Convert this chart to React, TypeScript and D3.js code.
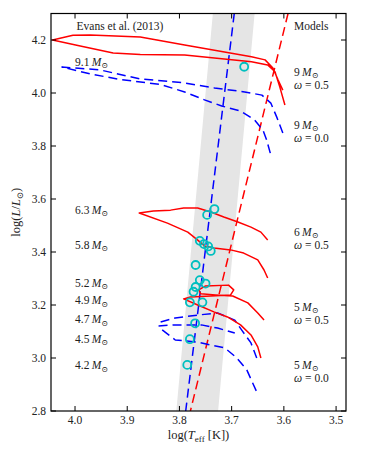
import * as d3 from 'd3';

const W = 368, H = 452;
const ML = 51, MR = 22, MT = 13.5, MB = 41;
const FONT = "'Liberation Serif', 'DejaVu Serif', serif";

const xTicks = [4.0, 3.9, 3.8, 3.7, 3.6, 3.5];
const yTicks = [2.8, 3.0, 3.2, 3.4, 3.6, 3.8, 4.0, 4.2];

// instability strip band and edges (logTeff, logL)
const stripBand = [[3.736, 4.3], [3.656, 4.3], [3.726, 2.8], [3.806, 2.8]];
const blueEdge = [[3.695, 4.3], [3.788, 2.8]];
const redEdge = [[3.592, 4.3], [3.779, 2.8]];

// rotating models (omega = 0.5), red solid
const track9Rot = [
  [3.602, 4.011], [3.611, 4.049], [3.621, 4.094], [3.636, 4.125], [3.662, 4.137],
  [3.790, 4.181], [3.875, 4.211], [3.971, 4.219], [4.004, 4.218], [4.043, 4.2],
  [3.990, 4.177], [3.927, 4.151], [3.875, 4.145], [3.790, 4.143], [3.662, 4.118],
  [3.631, 4.106], [3.617, 4.080], [3.608, 4.024], [3.598, 3.955],
];
const track6Rot = [
  [3.631, 3.445], [3.644, 3.475], [3.663, 3.494], [3.688, 3.513], [3.715, 3.532],
  [3.740, 3.551], [3.765, 3.566], [3.792, 3.566], [3.817, 3.558], [3.850, 3.555],
  [3.877, 3.547], [3.823, 3.509], [3.784, 3.475], [3.765, 3.445], [3.752, 3.423],
  [3.734, 3.415], [3.702, 3.408], [3.677, 3.396], [3.650, 3.370], [3.638, 3.332],
  [3.631, 3.302],
];
const track5Rot = [
  [3.638, 3.143], [3.650, 3.170], [3.669, 3.208], [3.698, 3.234], [3.731, 3.238],
  [3.759, 3.242], [3.763, 3.257], [3.750, 3.272], [3.706, 3.275], [3.696, 3.257],
  [3.702, 3.238], [3.740, 3.234], [3.779, 3.230], [3.792, 3.223], [3.765, 3.200],
  [3.734, 3.174], [3.708, 3.155], [3.683, 3.125], [3.663, 3.087], [3.650, 3.042],
  [3.644, 3.000],
];

// non-rotating models (omega = 0.0), blue dashed
const track9NoRot = [
  [3.602, 3.849], [3.613, 3.906], [3.625, 3.962], [3.642, 3.992], [3.675, 4.004],
  [3.733, 4.019], [3.790, 4.038], [3.875, 4.053], [3.952, 4.087], [4.025, 4.098],
  [3.971, 4.072], [3.913, 4.051], [3.836, 4.032], [3.790, 4.004], [3.752, 3.974],
  [3.719, 3.951], [3.683, 3.932], [3.656, 3.898], [3.640, 3.860], [3.633, 3.823],
  [3.625, 3.766],
];
const track5NoRotA = [
  [3.836, 3.136], [3.808, 3.151], [3.765, 3.162], [3.727, 3.170], [3.694, 3.143],
  [3.681, 3.106], [3.663, 3.057], [3.652, 3.000],
];
const track5NoRotB = [
  [3.840, 3.121], [3.808, 3.125], [3.758, 3.125], [3.727, 3.113], [3.694, 3.094],
];
const track5NoRotC = [
  [3.833, 3.106], [3.808, 3.068], [3.765, 3.060], [3.740, 3.049], [3.713, 3.038],
  [3.690, 3.000], [3.671, 2.955], [3.652, 2.872],
];

// Cepheids from Evans et al. (2013)
const cepheids = [
  [3.676, 4.099], [3.733, 3.562], [3.747, 3.540], [3.761, 3.442], [3.753, 3.430],
  [3.745, 3.421], [3.740, 3.404], [3.769, 3.351], [3.761, 3.294], [3.750, 3.281],
  [3.769, 3.268], [3.773, 3.250], [3.780, 3.210], [3.756, 3.210], [3.770, 3.131],
  [3.780, 3.071], [3.785, 2.974],
];

const massLabels = ['9.1', '6.3', '5.8', '5.2', '4.9', '4.7', '4.5', '4.2'];
const massLabelLum = [4.116, 3.559, 3.427, 3.282, 3.216, 3.146, 3.072, 2.972];

const modelMasses = ['9', '9', '6', '5', '5'];
const modelOmegas = ['0.5', '0.0', '0.5', '0.5', '0.0'];
const modelLabelLum = [4.057, 3.857, 3.453, 3.170, 2.951];

const x = d3.scaleLinear().domain([4.046, 3.481]).range([ML, W - MR]);
const y = d3.scaleLinear().domain([2.8, 4.3]).range([H - MB, MT]);
const line = d3.line<number[]>().x((d) => x(d[0])).y((d) => y(d[1]));

function Msun({ m }: { m: string }) {
  return (
    <>
      {m}{'\u2009'}<tspan fontStyle="italic">M</tspan>
      <tspan fontSize={8} dy={2.5}>{'\u2299'}</tspan>
    </>
  );
}

export default function App() {
  const iw = W - ML - MR;
  const ih = H - MT - MB;
  const redTracks = [track9Rot, track6Rot, track5Rot];
  const blueTracks = [track9NoRot, track5NoRotA, track5NoRotB, track5NoRotC];

  return (
    <svg width={W} height={H} style={{ position: 'absolute', left: 0, top: 0, background: '#fff' }}
      fontFamily={FONT}>
      <defs>
        <clipPath id="plot">
          <rect x={ML} y={MT} width={iw} height={ih} />
        </clipPath>
      </defs>

      <g clipPath="url(#plot)">
        <path d={line(stripBand) + 'Z'} fill="#e5e5e5" />
        <path d={line(blueEdge) ?? ''} fill="none" stroke="#0000ff" strokeWidth={1.5} strokeDasharray="9,5" />
        <path d={line(redEdge) ?? ''} fill="none" stroke="#ff0000" strokeWidth={1.5} strokeDasharray="9,5" />
        {blueTracks.map((t, i) => (
          <path key={'b' + i} d={line(t) ?? ''} fill="none" stroke="#0000ff" strokeWidth={1.5}
            strokeDasharray="9,5" strokeLinejoin="round" />
        ))}
        {redTracks.map((t, i) => (
          <path key={'r' + i} d={line(t) ?? ''} fill="none" stroke="#ff0000" strokeWidth={1.5}
            strokeLinejoin="round" />
        ))}
        {cepheids.map((d, i) => (
          <circle key={i} cx={x(d[0])} cy={y(d[1])} r={4} fill="none" stroke="#00bfbf" strokeWidth={1.8} />
        ))}
      </g>

      {/* frame and ticks */}
      <rect x={ML} y={MT} width={iw} height={ih} fill="none" stroke="#000" strokeWidth={1.2} />
      {xTicks.map((t) => (
        <g key={'x' + t}>
          <line x1={x(t)} x2={x(t)} y1={H - MB} y2={H - MB - 5} stroke="#000" />
          <line x1={x(t)} x2={x(t)} y1={MT} y2={MT + 5} stroke="#000" />
          <text x={x(t)} y={424} textAnchor="middle" fontSize={11.5} fill="#222">{t.toFixed(1)}</text>
        </g>
      ))}
      {yTicks.map((t) => (
        <g key={'y' + t}>
          <line x1={ML} x2={ML + 5} y1={y(t)} y2={y(t)} stroke="#000" />
          <line x1={W - MR} x2={W - MR - 5} y1={y(t)} y2={y(t)} stroke="#000" />
          <text x={46} y={y(t) + 4} textAnchor="end" fontSize={11.5} fill="#222">{t.toFixed(1)}</text>
        </g>
      ))}

      {/* axis labels */}
      <text x={ML + iw / 2} y={439} textAnchor="middle" fontSize={12.5} fill="#222">
        log(<tspan fontStyle="italic">T</tspan>
        <tspan fontSize={9} dy={2.5}>eff</tspan>
        <tspan dy={-2.5}> [K])</tspan>
      </text>
      <text transform={`translate(20,${MT + ih / 2}) rotate(-90)`} textAnchor="middle" fontSize={12.5} fill="#222">
        log(<tspan fontStyle="italic">L</tspan>/<tspan fontStyle="italic">L</tspan>
        <tspan fontSize={8.5} dy={2.5}>{'\u2299'}</tspan>
        <tspan dy={-2.5}>)</tspan>
      </text>

      {/* annotations */}
      <text x={120} y={30} textAnchor="middle" fontSize={11.5} fill="#222">Evans et al. (2013)</text>
      <text x={294} y={30} fontSize={11.5} fill="#222">Models</text>

      {massLabels.map((m, i) => (
        <text key={m} x={75} y={y(massLabelLum[i]) + 3.7} fontSize={11.5} fill="#222">
          <Msun m={m} />
        </text>
      ))}

      {modelMasses.map((m, i) => (
        <g key={'m' + i} fill="#222" fontSize={11.5}>
          <text x={294} y={y(modelLabelLum[i]) - 2}>
            <Msun m={m} />
          </text>
          <text x={294} y={y(modelLabelLum[i]) + 11.5}>
            <tspan fontStyle="italic">{'\u03c9'}</tspan> = {modelOmegas[i]}
          </text>
        </g>
      ))}
    </svg>
  );
}
